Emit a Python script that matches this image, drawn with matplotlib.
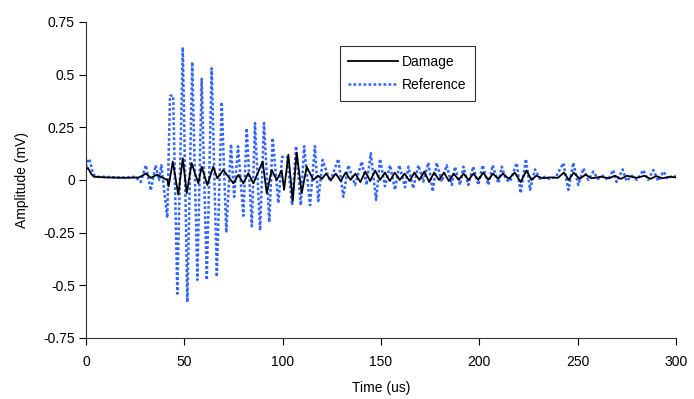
import matplotlib

matplotlib.use('Agg')

import numpy as np
import matplotlib.pyplot as plt

plt.rcParams['font.family'] = ['Liberation Sans', 'DejaVu Sans']

# reference signal (us / mV)
ref_t = [0, 1.0, 2.0, 3.5, 5, 10, 15, 20, 25, 27.8, 30.4, 32.9, 35.4, 37.1, 38.3,
         41.3, 42.7, 44.3, 46.4, 49.2, 51.5, 54.0, 56.6, 58.8, 61.4, 63.9, 66.5,
         69.0, 71.3, 73.7, 75.3, 77.3, 80.0, 81.7, 84.3, 85.9, 88.5, 90.5, 93.2,
         94.9, 97.8, 99.7, 102.2, 104.8, 106.8, 109.2, 110.9, 113.9, 116.4, 118.1,
         120.3, 124.1, 128.3, 130.8, 133.4, 136.8, 140.2, 142.7, 144.8, 147.5,
         149.5, 152.0, 154.6, 157.1, 159.3, 162.2, 163.9, 166.4, 169.0, 171.5,
         174.1, 176.3, 178.3, 180.9, 183.4, 186.0, 187.6, 190.2, 191.9, 194.4,
         196.9, 199.5, 201.7, 204.6, 206.8, 209.7, 211.4, 213.6, 215.6, 219.0,
         221.0, 223.7, 225.8, 228.3, 230.8, 233.4, 235.9, 239.0, 242.7, 245.3,
         247.8, 250.3, 252.9, 255.4, 258.0, 260.3, 262.9, 265.4, 268.1, 269.8,
         272.9, 274.9, 277.6, 280.2, 283.4, 285.8, 288.5, 291.0, 293.6, 296.0,
         298.0, 300]
ref_a = [0.06, 0.10, 0.09, 0.03, 0.015, 0.015, 0.012, 0.012, 0.015, -0.01, 0.07, -0.05, 0.07, 0.0, 0.07,
         -0.18, 0.40, 0.40, -0.54, 0.63, -0.58, 0.56, -0.475, 0.48, -0.475, 0.53, -0.46,
         0.37, -0.25, 0.17, -0.08, 0.16, -0.17, 0.245, -0.22, 0.27, -0.24, 0.27, -0.20,
         0.20, -0.11, 0.11, 0.11, -0.12, 0.16, -0.12, 0.16, -0.12, 0.16, -0.10,
         0.095, -0.008, 0.10, -0.08, 0.07, -0.024, 0.087, -0.024, 0.127, -0.095,
         0.10, -0.03, 0.07, -0.047, 0.07, -0.035, 0.063, -0.04, 0.07, -0.008,
         0.082, -0.055, 0.082, -0.008, 0.07, -0.024, 0.063, -0.024, 0.063, -0.024,
         0.063, -0.024, 0.07, -0.024, 0.07, -0.016, 0.063, 0.0, -0.008, 0.08,
         -0.063, 0.10, -0.047, 0.05, 0.005, 0.015, 0.005, 0.015, 0.08, -0.047,
         0.082, -0.024, 0.055, 0.0, 0.04, 0.005, 0.02, 0.0, 0.047, -0.01,
         0.05, -0.005, 0.02, 0.0, 0.047, 0.0, 0.047, -0.005, 0.04, 0.005,
         0.02, 0.016]

# damage signal
dmg_t = [0, 1, 2.5, 4, 10, 20, 27, 30.4, 33, 36, 39, 41.3, 42, 44.1, 46.9, 49.2,
         51.2, 53.7, 57.1, 58.8, 61.7, 64.7, 66.7, 69.8, 74.9, 77.5, 80.0, 82.5,
         85.1, 89.8, 91.9, 94.4, 97.0, 99.5, 100.7, 102.9, 105.1, 107.1, 109.7,
         112.2, 115.6, 118, 120, 122, 124.5, 127, 129.5, 132, 134.5, 137, 139.5,
         142, 144.5, 147, 149.5, 152, 154.5, 157, 159.5, 162, 164.5, 167, 169.5,
         172, 174.5, 177, 179.5, 182, 184.5, 187, 189.5, 192, 194.5, 197, 199.5,
         202, 204.5, 207, 209.5, 212, 215, 218, 221, 224, 226.5, 229, 232, 236,
         240, 243, 245.5, 248, 251, 254, 257, 262, 266, 269, 272, 275, 280, 284,
         287, 290, 293, 297, 300]
dmg_a = [0.05, 0.057, 0.03, 0.015, 0.012, 0.01, 0.012, 0.03, 0.01, 0.025, 0.01, 0.0, -0.03, 0.087, -0.07, 0.103,
         -0.063, 0.08, -0.016, 0.063, -0.024, 0.063, 0.008, 0.047, -0.016, 0.024, -0.016, 0.032,
         -0.016, 0.087, -0.063, 0.047, 0.0, 0.045, -0.047, 0.12, -0.10, 0.13, -0.063,
         0.063, 0.0, 0.02, 0.005, 0.03, 0.0, 0.03, -0.005, 0.035, 0.0, 0.03, -0.01,
         0.04, -0.005, 0.045, 0.0, 0.035, -0.005, 0.035, 0.0, 0.03, -0.005, 0.035, 0.0,
         0.04, -0.01, 0.035, 0.0, 0.035, -0.005, 0.03, 0.0, 0.03, 0.0, 0.03, 0.0,
         0.035, 0.0, 0.03, 0.005, 0.03, 0.005, 0.035, -0.01, 0.045, 0.0, 0.02, 0.008, 0.012,
         0.01, 0.035, 0.0, 0.035, 0.005, 0.025, 0.008, 0.015, 0.008, 0.02, 0.005, 0.02, 0.01, 0.02,
         0.005, 0.018, 0.008, 0.015, 0.012]

yticks = [-0.75, -0.5, -0.25, 0, 0.25, 0.5, 0.75]
ylabels = ['-0.75', '-0.5', '-0.25', '0', '0.25', '0.5', '0.75']
xticks = [0, 50, 100, 150, 200, 250, 300]

fig = plt.figure(figsize=(6.94, 3.99), dpi=100)
ax = fig.add_axes([0.124, 0.153, 0.850, 0.792])

ax.plot(dmg_t, dmg_a, color='black', lw=1.3, label='Damage', zorder=3)
ax.plot(ref_t, ref_a, color='#3366ff', lw=1.8, ls=(0, (1.1, 0.9)), label='Reference', zorder=2)

ax.set_xlim(0, 300)
ax.set_ylim(-0.75, 0.75)
ax.set_xticks(xticks)
ax.set_yticks(yticks)
ax.set_yticklabels(ylabels)
ax.tick_params(labelsize=10, direction='out', length=5, width=0.8, colors='black')
ax.tick_params(axis='y', pad=3)
ax.tick_params(axis='x', pad=7)
for s in ['top', 'right']:
    ax.spines[s].set_visible(False)
for s in ['left', 'bottom']:
    ax.spines[s].set_linewidth(0.8)
    ax.spines[s].set_color('#333333')

ax.set_xlabel('Time (us)', fontsize=10, labelpad=9)
ax.set_ylabel('Amplitude (mV)', fontsize=10, labelpad=10)

leg = ax.legend(loc='upper left', bbox_to_anchor=(0.418, 0.945), fontsize=10,
                frameon=True, fancybox=False, handlelength=3.6, borderpad=0.6,
                labelspacing=0.7, handletextpad=0.3, borderaxespad=0.5)
leg.get_frame().set_edgecolor('black')
leg.get_frame().set_linewidth(0.8)

plt.savefig('out.png', dpi=100)
